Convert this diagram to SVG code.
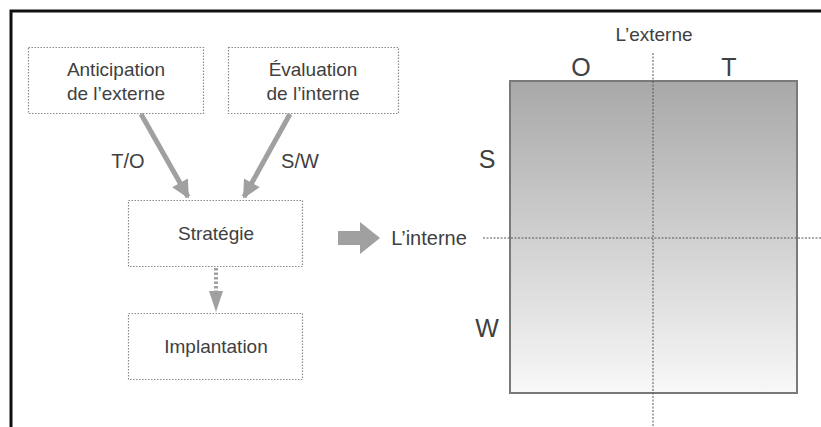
<svg xmlns="http://www.w3.org/2000/svg" width="821" height="427" viewBox="0 0 821 427">
  <style>
    .box { fill: #ffffff; stroke: #8a8a8a; stroke-width: 1.2; stroke-dasharray: 1.5 1.5; }
    .lbl { font-family: "Liberation Sans", Arial, sans-serif; fill: #404040; text-anchor: middle; }
    .t19 { font-size: 19px; }
    .t20 { font-size: 20px; }
    .big { font-size: 25px; }
    .shaft { stroke: #a0a0a0; stroke-width: 5; fill: none; }
    .guide { stroke: #555; stroke-width: 1; stroke-dasharray: 2 1.5; fill: none; }
  </style>
  <defs>
    <marker id="head" viewBox="0 0 10 10" refX="9" refY="5" markerWidth="4.4" markerHeight="3.6" markerUnits="strokeWidth" orient="auto">
      <path d="M0,0 L10,5 L0,10 Z" fill="#a0a0a0"/>
    </marker>
    <linearGradient id="shade" x1="0" y1="0" x2="0" y2="1">
      <stop offset="0" stop-color="#a8a8a8"/>
      <stop offset="1" stop-color="#f8f8f8"/>
    </linearGradient>
  </defs>

  <rect width="821" height="427" fill="#ffffff"/>
  <!-- frame: top and left rules -->
  <path d="M11,427 V11 H821" fill="none" stroke="#111" stroke-width="3"/>

  <g id="anticipation">
    <rect class="box" x="28.5" y="47.5" width="175" height="66"/>
    <text class="lbl t19" x="116" y="76">Anticipation</text>
    <text class="lbl t19" x="116" y="100">de l’externe</text>
  </g>

  <g id="evaluation">
    <rect class="box" x="228.5" y="47.5" width="170" height="66"/>
    <text class="lbl t19" x="313" y="76">Évaluation</text>
    <text class="lbl t19" x="313" y="100">de l’interne</text>
  </g>

  <g id="strategie">
    <rect class="box" x="128.5" y="200.5" width="174" height="66"/>
    <text class="lbl t19" x="216" y="240">Stratégie</text>
  </g>

  <g id="implantation">
    <rect class="box" x="128.5" y="313.5" width="174" height="66"/>
    <text class="lbl t19" x="216" y="353">Implantation</text>
  </g>

  <g id="connectors">
    <line class="shaft" x1="141" y1="114" x2="188" y2="197" marker-end="url(#head)"/>
    <line class="shaft" x1="290" y1="114" x2="244" y2="197" marker-end="url(#head)"/>
    <text class="lbl t20" x="128" y="168">T/O</text>
    <text class="lbl t20" x="300" y="168">S/W</text>
    <!-- dashed link to implantation -->
    <line x1="216" y1="268" x2="216" y2="292" stroke="#a0a0a0" stroke-width="4" stroke-dasharray="2.5 2"/>
    <path d="M209,291 L223,291 L216,312 Z" fill="#a0a0a0"/>
    <!-- block arrow to matrix -->
    <path d="M338,231 H360 V222 L380,238 L360,254 V245 H338 Z" fill="#a0a0a0"/>
  </g>

  <g id="matrix">
    <rect x="510" y="81" width="287" height="312" fill="url(#shade)" stroke="#7a7a7a" stroke-width="2"/>
    <line class="guide" x1="653" y1="53" x2="653" y2="427"/>
    <line class="guide" x1="483" y1="238" x2="821" y2="238"/>
    <text class="lbl t19" x="654" y="41">L’externe</text>
    <text class="lbl big" x="581" y="76">O</text>
    <text class="lbl big" x="729" y="76">T</text>
    <text class="lbl big" x="487" y="168">S</text>
    <text class="lbl big" x="487" y="337">W</text>
    <text class="lbl t20" x="429" y="245">L’interne</text>
  </g>
</svg>
